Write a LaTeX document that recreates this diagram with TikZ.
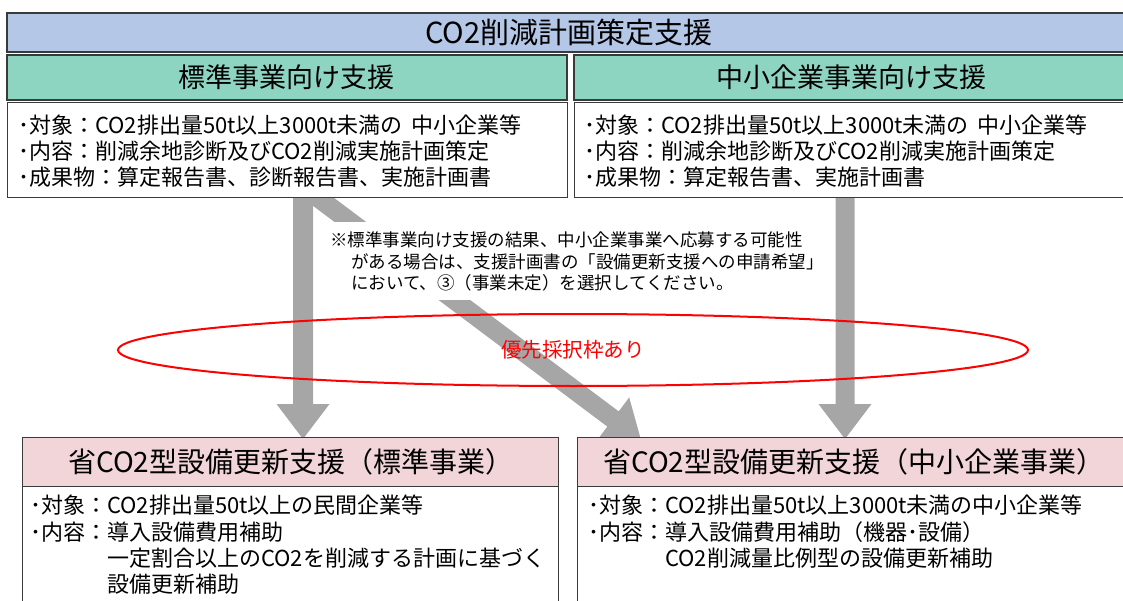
\documentclass[tikz,border=0pt]{standalone}
\usepackage{fontspec}
\setmainfont{Noto Sans CJK JP}
\usetikzlibrary{calc,shapes.geometric}
\definecolor{titleblue}{HTML}{B4C7E7}
\definecolor{headgreen}{HTML}{8ED5C1}
\definecolor{headpink}{HTML}{F2D5D8}
\definecolor{arrowgray}{HTML}{A6A6A6}
\definecolor{edgecol}{HTML}{3A3A3A}
\begin{document}
\begin{tikzpicture}[x=1pt,y=-1pt,
  hdr/.style={draw=edgecol, line width=1.6pt, anchor=north west, inner sep=0pt},
  bodybox/.style={draw=edgecol, line width=1.3pt, fill=white, anchor=north west, inner sep=0pt},
  ln/.style={anchor=base west, inner sep=0pt, font=\fontsize{22}{26}\selectfont},
  noteln/.style={anchor=base west, inner sep=0pt, font=\fontsize{17.5}{22}\selectfont},
  bigtxt/.style={font=\fontsize{27}{27}\selectfont},
]
\useasboundingbox (0,0) rectangle (1123,601);
\clip (0,0) rectangle (1123,601);

% ---- block arrows ----
\coordinate (la0) at (303,185);
\coordinate (la1) at (303,439);
\fill[arrowgray] ($(la0)+(-10,0)$) -- ($(la1)+(-10,-35)$) -- ($(la1)+(-26.5,-35)$) -- (la1)
  -- ($(la1)+(26.5,-35)$) -- ($(la1)+(10,-35)$) -- ($(la0)+(10,0)$) -- cycle;
\coordinate (ra0) at (845,185);
\coordinate (ra1) at (845,439);
\fill[arrowgray] ($(ra0)+(-9.5,0)$) -- ($(ra1)+(-9.5,-35)$) -- ($(ra1)+(-26.5,-35)$) -- (ra1)
  -- ($(ra1)+(26.5,-35)$) -- ($(ra1)+(9.5,-35)$) -- ($(ra0)+(9.5,0)$) -- cycle;
\coordinate (da0) at (301,185);
\coordinate (da1) at (641,440);
\coordinate (dab) at ($(da1)!35pt!(da0)$);
\fill[arrowgray] ($(da0)!9.5pt!90:(da1)$) -- ($(dab)!9.5pt!90:(da1)$) -- ($(dab)!27pt!90:(da1)$)
  -- (da1) -- ($(dab)!27pt!-90:(da1)$) -- ($(dab)!9.5pt!-90:(da1)$) -- ($(da0)!9.5pt!-90:(da1)$) -- cycle;

% ---- top boxes ----
\node[hdr, fill=titleblue, minimum width=1124pt, minimum height=39pt, font=\fontsize{29}{29}\selectfont] (title) at (6,12) {CO2削減計画策定支援};
\node[hdr, fill=headgreen, minimum width=560pt, minimum height=45pt, bigtxt] (gl) at (6,54) {標準事業向け支援};
\node[hdr, fill=headgreen, minimum width=556pt, minimum height=45pt, bigtxt] (gr) at (573,54) {中小企業事業向け支援};
\node[bodybox, minimum width=560pt, minimum height=95pt] (wl) at (7,102) {};
\node[bodybox, minimum width=556pt, minimum height=95pt] (wr) at (574,102) {};

\node[ln] (tl1) at (18,133.4) {･対象：CO2排出量50t以上3000t未満の\hspace{0.4em}中小企業等};
\node[ln] (tl2) at (18,159.4) {･内容：削減余地診断及びCO2削減実施計画策定};
\node[ln] (tl3) at (18,185.4) {･成果物：算定報告書、診断報告書、実施計画書};
\node[ln] (tr1) at (584,133.4) {･対象：CO2排出量50t以上3000t未満の\hspace{0.4em}中小企業等};
\node[ln] (tr2) at (584,159.4) {･内容：削減余地診断及びCO2削減実施計画策定};
\node[ln] (tr3) at (584,185.4) {･成果物：算定報告書、実施計画書};

% ---- note ----
\node[fill=white, anchor=north west, minimum width=470pt, minimum height=78pt, inner sep=0pt] (notebg) at (326,222) {};
\node[noteln] (n1) at (330,246.6) {※標準事業向け支援の結果、中小企業事業へ応募する可能性};
\node[noteln] (n2) at (351,268.6) {がある場合は、支援計画書の「設備更新支援への申請希望」};
\node[noteln] (n3) at (351,289.6) {において、③（事業未定）を選択してください。};

% ---- priority ellipse ----
\node[ellipse, draw=red, line width=2pt, minimum width=910pt, minimum height=72pt, inner sep=0pt,
  text=red, font=\fontsize{20.5}{21}\selectfont] (prio) at (573,350) {優先採択枠あり};

% ---- bottom boxes ----
\node[bodybox, minimum width=536pt, minimum height=130pt] (bl) at (22,486) {};
\node[hdr, line width=1.3pt, fill=headpink, minimum width=536pt, minimum height=49pt, font=\fontsize{28}{28}\selectfont] (hl) at (22,437) {省CO2型設備更新支援（標準事業）};
\node[bodybox, minimum width=552pt, minimum height=130pt] (br) at (577,486) {};
\node[hdr, line width=1.3pt, fill=headpink, minimum width=552pt, minimum height=49pt, font=\fontsize{28}{28}\selectfont] (hr) at (577,437) {省CO2型設備更新支援（中小企業事業）};

\node[ln] (bl1) at (30,513.4) {･対象：CO2排出量50t以上の民間企業等};
\node[ln] (bl2) at (30,540.4) {･内容：導入設備費用補助};
\node[ln] (bl3) at (107,566.4) {一定割合以上のCO2を削減する計画に基づく};
\node[ln] (bl4) at (107,592.4) {設備更新補助};
\node[ln] (br1) at (588,513.4) {･対象：CO2排出量50t以上3000t未満の中小企業等};
\node[ln] (br2) at (588,540.4) {･内容：導入設備費用補助（機器･設備）};
\node[ln] (br3) at (665,566.4) {CO2削減量比例型の設備更新補助};
\end{tikzpicture}
\end{document}
